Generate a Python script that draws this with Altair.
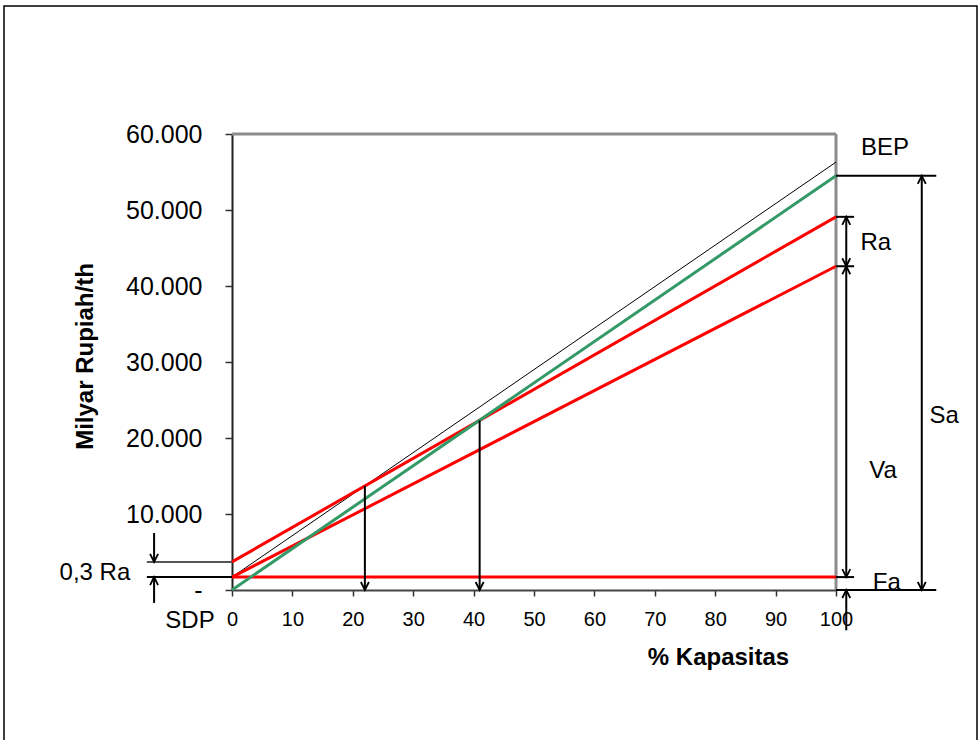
import altair as alt
import pandas as pd

# ---- data ----
kapasitas = [0, 100]
fixed_cost = [1700, 1700]        # Fa
variable_cost = [1700, 42600]    # Fa + Va
total_cost = [3700, 49100]       # Fa + 0,3 Ra ... Fa + Va + Ra
sales = [0, 54500]               # Sa
bep_line = [1700, 56300]         # BEP reference line

x_ticks = list(range(0, 101, 10))
y_ticks = list(range(0, 60001, 10000))

drop_x = [22, 41]                # vertical drop arrows (break-even points)
drop_top = [13700, 22300]

FONT = "Liberation Sans"
W, H = 604, 456

xs = alt.Scale(domain=[0, 100], nice=False, zero=False)
ys = alt.Scale(domain=[0, 60000], nice=False, zero=False)

x_axis = alt.Axis(
    title="% Kapasitas", values=x_ticks, grid=False, labelFontSize=20,
    labelFont=FONT, labelColor="black", tickSize=6, tickColor="#333",
    tickWidth=1.5, labelPadding=13, domainColor="#444", domainWidth=2,
    labelFlush=False, labelOverlap=False,
    titleFont=FONT, titleFontSize=24, titleFontWeight="bold", titleColor="black",
    titleX=486, titleY=67, titleBaseline="middle", titleAlign="center",
)
y_axis = alt.Axis(
    title="Milyar Rupiah/th", values=y_ticks, grid=False, labelFontSize=25,
    labelFont=FONT, labelColor="black", tickSize=7, tickColor="#333",
    tickWidth=1.5, labelPadding=23, domainColor="#222", domainWidth=2,
    labelFlush=False, labelOverlap=False,
    labelExpr="datum.value == 0 ? '-' : replace(format(datum.value, ',.0f'), ',', '.')",
    titleFont=FONT, titleFontSize=24, titleFontWeight="bold", titleColor="black",
    titleX=-147, titleY=222, titleAngle=270, titleBaseline="middle", titleAlign="center",
)

def X(f="x"):
    return alt.X(f"{f}:Q", scale=xs, axis=x_axis)

def Y(f="y"):
    return alt.Y(f"{f}:Q", scale=ys, axis=y_axis)

# ---- line series ----
rows = []
for name, vals in [("fixed", fixed_cost), ("variable", variable_cost),
                   ("total", total_cost), ("sales", sales), ("bep", bep_line)]:
    for k, v in zip(kapasitas, vals):
        rows.append({"x": k, "y": v, "series": name})
lines = pd.DataFrame(rows)

black = alt.Chart(lines).transform_filter("datum.series == 'bep'").mark_line(
    color="black", strokeWidth=1).encode(x=X(), y=Y())
red = alt.Chart(lines).transform_filter(
    "indexof(['fixed','variable','total'], datum.series) >= 0").mark_line(
    color="#ff0000", strokeWidth=3).encode(x=X(), y=Y(), detail="series:N")
green = alt.Chart(lines).transform_filter("datum.series == 'sales'").mark_line(
    color="#339966", strokeWidth=3).encode(x=X(), y=Y())

# ---- plot border (top and right, grey) ----
border = pd.DataFrame([
    {"x": 0, "x2": 100, "y": 60000, "y2": 60000},
    {"x": 100, "x2": 100, "y": 0, "y2": 60000},
])
border_l = alt.Chart(border).mark_rule(color="#8c8c8c", strokeWidth=3).encode(
    x=X(), x2="x2:Q", y=Y(), y2="y2:Q")

# ---- annotation brackets ----
Fa = fixed_cost[0]
r_in, r_short, r_sa, r_long = 101.7, 103.0, 114.2, 116.6
l_out, l_arrow = -14.1, -12.9
seg = [
    # right side
    (100, r_long, sales[1], sales[1], "black"),
    (100, r_short, total_cost[1], total_cost[1], "black"),
    (100, r_short, variable_cost[1], variable_cost[1], "black"),
    (100, r_short, Fa, Fa, "black"),
    (100, r_long, 0, 0, "black"),
    (r_in, r_in, total_cost[1], variable_cost[1], "black"),
    (r_in, r_in, variable_cost[1], Fa, "black"),
    (r_sa, r_sa, sales[1], 0, "black"),
    (r_in, r_in, -5300, 0, "black"),
    # left side
    (l_out, 0, total_cost[0], total_cost[0], "#555555"),
    (l_out, 0, Fa, Fa, "black"),
    (l_arrow, l_arrow, 7500, total_cost[0], "black"),
    (l_arrow, l_arrow, -1700, Fa, "black"),
]
# drop arrows
for dx, dt in zip(drop_x, drop_top):
    seg.append((dx, dx, dt, 0, "black"))
segs = pd.DataFrame(seg, columns=["x", "x2", "y", "y2", "c"])
seg_l = alt.Chart(segs).mark_rule(strokeWidth=2).encode(
    x=X(), x2="x2:Q", y=Y(), y2="y2:Q",
    color=alt.Color("c:N", scale=None))

heads = pd.DataFrame([
    (r_in, total_cost[1], "up"), (r_in, variable_cost[1], "down"),
    (r_in, variable_cost[1], "up"), (r_in, Fa, "down"),
    (r_sa, sales[1], "up"), (r_sa, 0, "down"),
    (r_in, 0, "up"),
    (l_arrow, total_cost[0], "down"), (l_arrow, Fa, "up"),
    (drop_x[0], 0, "down"), (drop_x[1], 0, "down"),
], columns=["x", "y", "dir"])
heads["y"] = heads["y"].astype(float)
down_path = "M-0.5,-1L0,0L0.5,-1"
up_path = "M-0.5,1L0,0L0.5,1"
head_l = alt.Chart(heads).mark_point(filled=False, color="black", strokeWidth=1.8,
                                     size=256, opacity=1).encode(
    x=X(), y=Y(),
    shape=alt.Shape("dir:N", scale=alt.Scale(domain=["down", "up"],
                                              range=[down_path, up_path]),
                    legend=None))

# ---- annotation text ----
labels = pd.DataFrame([
    ("BEP", 108.1, 58150), ("Ra", 106.6, 45650), ("Sa", 117.9, 22900),
    ("Va", 107.8, 15650), ("Fa", 108.4, 900),
    ("0,3 Ra", -22.7, 2240), ("SDP", -6.95, -4080),
], columns=["t", "x", "y"])
text_l = alt.Chart(labels).mark_text(font=FONT, fontSize=24, color="black",
                                     align="center", baseline="middle").encode(
    x=X(), y=Y(), text="t:N")

# ---- outer frame ----
frame = alt.Chart(pd.DataFrame({"a": [0]})).mark_rect(
    fillOpacity=0, stroke="black", strokeWidth=1.5).encode(
    x=alt.value(-228), x2=alt.value(745), y=alt.value(-128), y2=alt.value(640))

chart = alt.layer(frame, border_l, black, red, green, seg_l, head_l, text_l).properties(
    width=W, height=H,
    autosize=alt.AutoSizeParams(type="none"),
    padding={"left": 232, "top": 134, "right": 144, "bottom": 150},
    background="white",
).configure_view(stroke=None, strokeWidth=0)

chart.save("out.html", embed_options={"renderer": "svg", "actions": False})
